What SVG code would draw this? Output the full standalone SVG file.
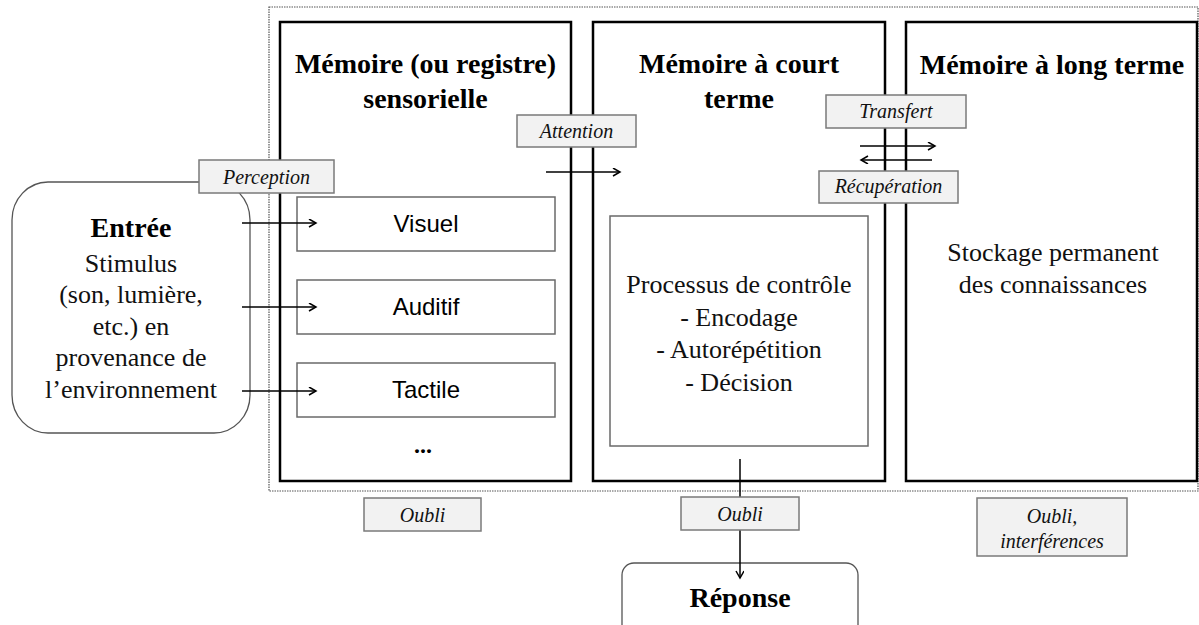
<svg xmlns="http://www.w3.org/2000/svg" width="1199" height="625" viewBox="0 0 1199 625">
<defs>
<marker id="ah" markerWidth="10" markerHeight="10" refX="8" refY="4" orient="auto" markerUnits="userSpaceOnUse">
<path d="M1,0 L8,4 L1,8" fill="none" stroke="#000" stroke-width="1.5"/>
</marker>
<style>
.mem{fill:#fff;stroke:#000;stroke-width:2.5}
.inner{fill:#fff;stroke:#6a6a6a;stroke-width:1.5}
.lbl{fill:#f2f2f2;stroke:#7a7a7a;stroke-width:1.5}
.round{fill:#fff;stroke:#555;stroke-width:1.3}
.title{font-family:"Liberation Serif",serif;font-weight:bold;font-size:28px;text-anchor:middle;fill:#000}
.serif{font-family:"Liberation Serif",serif;font-size:26px;text-anchor:middle;fill:#111}
.ital{font-family:"Liberation Serif",serif;font-style:italic;font-size:20px;text-anchor:middle;fill:#111}
.sans{font-family:"Liberation Sans",Arial,sans-serif;font-size:24px;text-anchor:middle;fill:#000}
.conn{stroke:#000;stroke-width:1.5;fill:none}
</style>
</defs>
<rect width="1199" height="625" fill="#fff"/>
<rect id="zone" x="269" y="7" width="929" height="484" fill="none" stroke="#555" stroke-width="1.2" stroke-dasharray="1.5,1"/>

<g id="sensorielle">
<rect class="mem" x="280" y="22" width="291" height="459"/>
<text class="title" x="425.5" y="73">Mémoire (ou registre)</text>
<text class="title" x="425.5" y="108">sensorielle</text>
</g>
<g id="visuel">
<rect class="inner" x="297" y="197" width="258" height="54"/>
<text class="sans" x="426" y="232">Visuel</text>
</g>
<g id="auditif">
<rect class="inner" x="297" y="280" width="258" height="54"/>
<text class="sans" x="426" y="315">Auditif</text>
</g>
<g id="tactile">
<rect class="inner" x="297" y="363" width="258" height="54"/>
<text class="sans" x="426" y="398">Tactile</text>
</g>
<text class="title" x="423" y="453" style="font-size:24px">...</text>

<g id="court-terme">
<rect class="mem" x="593" y="22" width="292" height="459"/>
<text class="title" x="739" y="73">Mémoire à court</text>
<text class="title" x="739" y="108">terme</text>
</g>
<g id="processus">
<rect class="inner" x="610" y="216" width="258" height="230"/>
<text class="serif" x="739" y="293">Processus de contrôle</text>
<text class="serif" x="739" y="326">- Encodage</text>
<text class="serif" x="739" y="358">- Autorépétition</text>
<text class="serif" x="739" y="391">- Décision</text>
</g>

<g id="long-terme">
<rect class="mem" x="906" y="22" width="291" height="459"/>
<text class="title" x="1052" y="74">Mémoire à long terme</text>
<text class="serif" x="1053" y="261">Stockage permanent</text>
<text class="serif" x="1053" y="293">des connaissances</text>
</g>

<g id="entree">
<rect class="round" x="12" y="182" width="238" height="251" rx="36" ry="38"/>
<text class="title" x="131" y="237">Entrée</text>
<text class="serif" x="131" y="272">Stimulus</text>
<text class="serif" x="131" y="303">(son, lumière,</text>
<text class="serif" x="131" y="335">etc.) en</text>
<text class="serif" x="131" y="366">provenance de</text>
<text class="serif" x="131" y="398">l’environnement</text>
</g>

<g id="reponse">
<rect class="round" x="622" y="563" width="236" height="80" rx="12"/>
<text class="title" x="740" y="607">Réponse</text>
</g>

<g id="connecteurs">
<line class="conn" x1="242" y1="223" x2="316" y2="223" marker-end="url(#ah)"/>
<line class="conn" x1="242" y1="307" x2="316" y2="307" marker-end="url(#ah)"/>
<line class="conn" x1="242" y1="391" x2="316" y2="391" marker-end="url(#ah)"/>
<line class="conn" x1="546" y1="172" x2="620" y2="172" marker-end="url(#ah)"/>
<line class="conn" x1="860" y1="146" x2="935" y2="146" marker-end="url(#ah)"/>
<line class="conn" x1="932" y1="160" x2="861" y2="160" marker-end="url(#ah)"/>
<line class="conn" x1="740" y1="459" x2="740" y2="578" marker-end="url(#ah)"/>
</g>

<g id="perception">
<rect class="lbl" x="199" y="160" width="135" height="33"/>
<text class="ital" x="266.5" y="184">Perception</text>
</g>
<g id="attention">
<rect class="lbl" x="517" y="115" width="119" height="32"/>
<text class="ital" x="576.5" y="138">Attention</text>
</g>
<g id="transfert">
<rect class="lbl" x="826" y="95" width="140" height="33"/>
<text class="ital" x="896" y="118">Transfert</text>
</g>
<g id="recuperation">
<rect class="lbl" x="819" y="171" width="139" height="32"/>
<text class="ital" x="888.5" y="193">Récupération</text>
</g>
<g id="oubli-1">
<rect class="lbl" x="364" y="498" width="117" height="33"/>
<text class="ital" x="422.5" y="522">Oubli</text>
</g>
<g id="oubli-2">
<rect class="lbl" x="681" y="497" width="118" height="33"/>
<text class="ital" x="740" y="521">Oubli</text>
</g>
<g id="oubli-3">
<rect class="lbl" x="977" y="498" width="150" height="58"/>
<text class="ital" x="1052" y="523">Oubli,</text>
<text class="ital" x="1052" y="548">interférences</text>
</g>
</svg>
